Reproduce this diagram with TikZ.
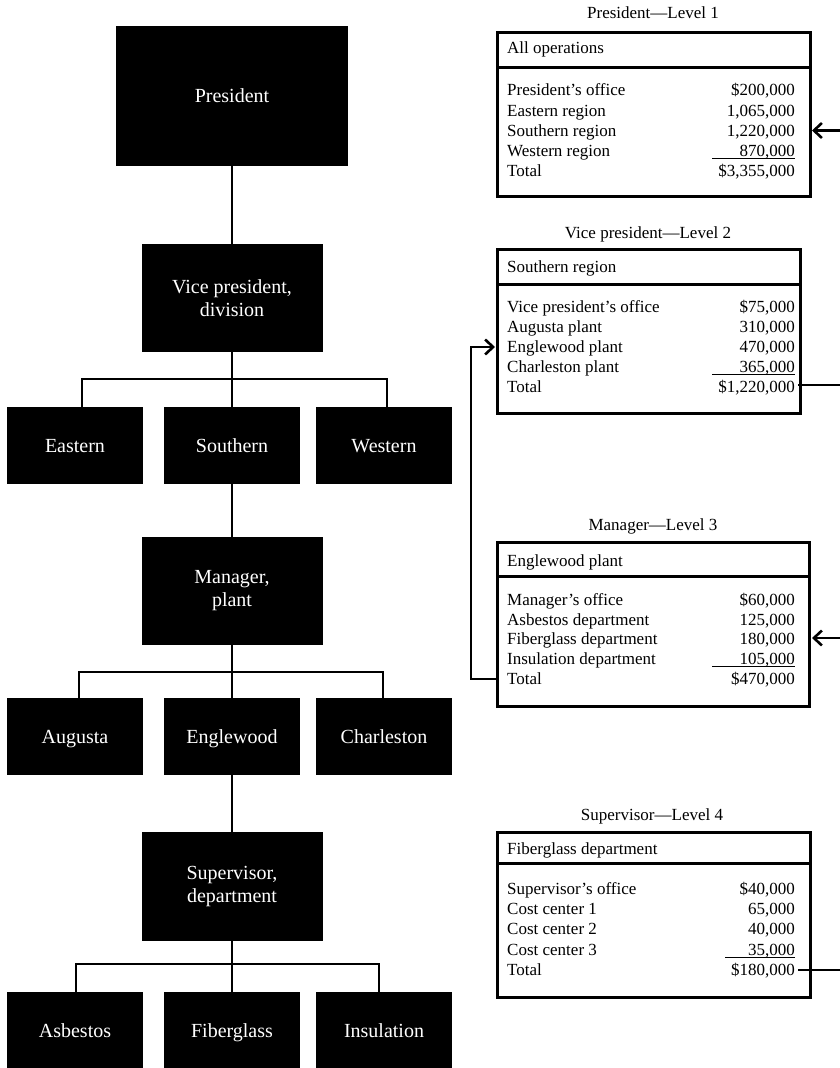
\documentclass[tikz,border=0pt]{standalone}
\usepackage{fontspec}
\setmainfont{Liberation Serif}
\usetikzlibrary{arrows.meta}
\begin{document}
\begin{tikzpicture}[x=1pt,y=-1pt,
  org/.style={fill=black, text=white, align=center, inner sep=0pt, font=\fontsize{20}{23}\selectfont},
  bigbox/.style={org, minimum width=181pt, minimum height=108pt},
  smallbox/.style={org, minimum width=136pt, minimum height=77pt, text height=14pt, text depth=0pt},
  conn/.style={line width=2.8pt},
  tbl/.style={draw, line width=3pt},
  lab/.style={anchor=base west, inner sep=0pt, font=\fontsize{17}{20}\selectfont},
  val/.style={anchor=base east, inner sep=0pt, font=\fontsize{17}{20}\selectfont},
  ttl/.style={anchor=base, inner sep=0pt, font=\fontsize{17}{20}\selectfont},
  uline/.style={line width=1pt},
  flow/.style={line width=2.4pt},
  arr/.style={-{Straight Barb[length=8pt,width=15pt,line width=2.6pt]}, line width=2.4pt}
]
\useasboundingbox (0,0) rectangle (840,1068);

% ---------------- organisation tree ----------------
\node[org, minimum width=232pt, minimum height=140pt] (pres) at (232,96) {President};
\node[bigbox] (vp) at (232,298) {Vice president,\\division};
\node[smallbox] (east) at (75,445.5) {Eastern};
\node[smallbox] (south) at (232,445.5) {Southern};
\node[smallbox] (west) at (384,445.5) {Western};
\node[bigbox] (mgr) at (232,591) {Manager,\\plant};
\node[smallbox] (aug) at (75,736.5) {Augusta};
\node[smallbox] (eng) at (232,736.5) {Englewood};
\node[smallbox] (cha) at (384,736.5) {Charleston};
\node[bigbox, minimum height=109pt] (sup) at (232,886.5) {Supervisor,\\department};
\node[smallbox, minimum height=76pt] (asb) at (75,1030) {Asbestos};
\node[smallbox, minimum height=76pt] (fib) at (232,1030) {Fiberglass};
\node[smallbox, minimum height=76pt] (ins) at (384,1030) {Insulation};

\draw[conn] (pres.south) -- (vp.north);
\draw[conn] (vp.south) -- (south.north);
\coordinate (b1l) at (82,379); \coordinate (b1r) at (387,379);
\draw[conn] (east.north -| b1l) -- (b1l) -- (b1r) -- (west.north -| b1r);
\draw[conn] (south.south) -- (mgr.north);
\draw[conn] (mgr.south) -- (eng.north);
\coordinate (b2l) at (79,672); \coordinate (b2r) at (383,672);
\draw[conn] (aug.north -| b2l) -- (b2l) -- (b2r) -- (cha.north -| b2r);
\draw[conn] (eng.south) -- (sup.north);
\draw[conn] (sup.south) -- (fib.north);
\coordinate (b3l) at (76,964); \coordinate (b3r) at (379,964);
\draw[conn] (asb.north -| b3l) -- (b3l) -- (b3r) -- (ins.north -| b3r);

% ---------------- Table 1 ----------------
\node[ttl] (t1title) at (653,19) {President—Level 1};
\draw[tbl] (497,32) rectangle (810,196);
\draw[tbl] (497,67) -- (810,67);
\node[lab] (t1head) at (507,53) {All operations};
\node[lab] (t1l1) at (507,95.5) {President’s office};
\node[val] (t1v1) at (795,95.5) {\$200,000};
\node[lab] (t1l2) at (507,116) {Eastern region};
\node[val] (t1v2) at (795,116) {1,065,000};
\node[lab] (t1l3) at (507,136.3) {Southern region};
\node[val] (t1v3) at (795,136.3) {1,220,000};
\node[lab] (t1l4) at (507,156) {Western region};
\node[val] (t1v4) at (795,156) {870,000};
\node[lab] (t1l5) at (507,176.7) {Total};
\node[val] (t1v5) at (795,176.7) {\$3,355,000};
\draw[uline] (712,158) -- (795,158);

% ---------------- Table 2 ----------------
\node[ttl] (t2title) at (648,238) {Vice president—Level 2};
\draw[tbl] (497,249) rectangle (800,413);
\draw[tbl] (497,284) -- (800,284);
\node[lab] (t2head) at (507,272) {Southern region};
\node[lab] (t2l1) at (507,312.7) {Vice president’s office};
\node[val] (t2v1) at (795,312.7) {\$75,000};
\node[lab] (t2l2) at (507,332.7) {Augusta plant};
\node[val] (t2v2) at (795,332.7) {310,000};
\node[lab] (t2l3) at (507,352.7) {Englewood plant};
\node[val] (t2v3) at (795,352.7) {470,000};
\node[lab] (t2l4) at (507,372.7) {Charleston plant};
\node[val] (t2v4) at (795,372.7) {365,000};
\node[lab] (t2l5) at (507,392.7) {Total};
\node[val] (t2v5) at (795,392.7) {\$1,220,000};
\draw[uline] (712,374.5) -- (795,374.5);

% ---------------- Table 3 ----------------
\node[ttl] (t3title) at (653,530.7) {Manager—Level 3};
\draw[tbl] (497,542) rectangle (809,706.5);
\draw[tbl] (497,576) -- (809,576);
\node[lab] (t3head) at (507,566) {Englewood plant};
\node[lab] (t3l1) at (507,605) {Manager’s office};
\node[val] (t3v1) at (795,605) {\$60,000};
\node[lab] (t3l2) at (507,625) {Asbestos department};
\node[val] (t3v2) at (795,625) {125,000};
\node[lab] (t3l3) at (507,644.5) {Fiberglass department};
\node[val] (t3v3) at (795,644.5) {180,000};
\node[lab] (t3l4) at (507,664) {Insulation department};
\node[val] (t3v4) at (795,664) {105,000};
\node[lab] (t3l5) at (507,684) {Total};
\node[val] (t3v5) at (795,684) {\$470,000};
\draw[uline] (712,666) -- (795,666);

% ---------------- Table 4 ----------------
\node[ttl] (t4title) at (652,820.7) {Supervisor—Level 4};
\draw[tbl] (497,832) rectangle (810,997);
\draw[tbl] (497,863) -- (810,863);
\node[lab] (t4head) at (507,854) {Fiberglass department};
\node[lab] (t4l1) at (507,894) {Supervisor’s office};
\node[val] (t4v1) at (795,894) {\$40,000};
\node[lab] (t4l2) at (507,914.3) {Cost center 1};
\node[val] (t4v2) at (795,914.3) {65,000};
\node[lab] (t4l3) at (507,934.6) {Cost center 2};
\node[val] (t4v3) at (795,934.6) {40,000};
\node[lab] (t4l4) at (507,955) {Cost center 3};
\node[val] (t4v4) at (795,955) {35,000};
\node[lab] (t4l5) at (507,975.3) {Total};
\node[val] (t4v5) at (795,975.3) {\$180,000};
\draw[uline] (725,957) -- (795,957);

% ---------------- flow connectors ----------------
\coordinate (a1s) at (840,130.5);  \coordinate (a1t) at (812,130.5);
\draw[arr] (a1s) -- (a1t);
\coordinate (a2s) at (798,385);  \coordinate (a2e) at (840,385);
\draw[flow] (a2s) -- (a2e);
\coordinate (a3s) at (497,679);  \coordinate (a3c1) at (471,679);
\coordinate (a3c2) at (471,347); \coordinate (a3t) at (495,347);
\draw[arr] (a3s) -- (a3c1) -- (a3c2) -- (a3t);
\coordinate (a4s) at (840,638);  \coordinate (a4t) at (812,638);
\draw[arr] (a4s) -- (a4t);
\coordinate (a5s) at (798,970);  \coordinate (a5e) at (840,970);
\draw[flow] (a5s) -- (a5e);
\end{tikzpicture}
\end{document}
